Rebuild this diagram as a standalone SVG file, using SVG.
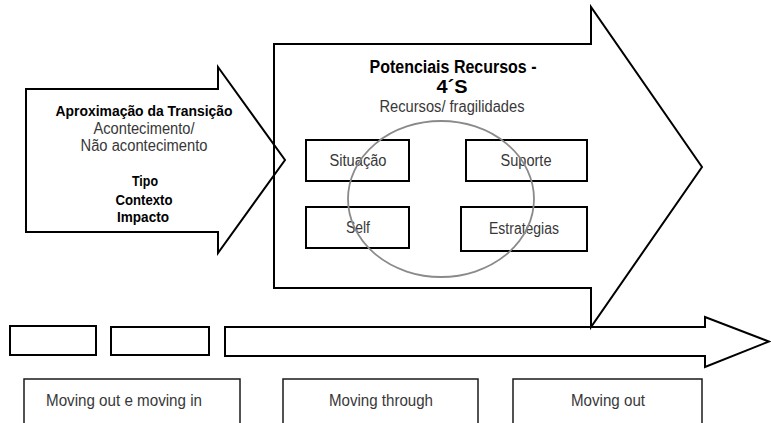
<svg xmlns="http://www.w3.org/2000/svg" width="771" height="423" viewBox="0 0 771 423">
<style>
.shape{fill:none;stroke:#000;stroke-width:2;stroke-linejoin:miter}
.box{fill:#fff;stroke:#000;stroke-width:2}
.lbox{fill:#fff;stroke:#1a1a1a;stroke-width:1.5}
.b{font-family:"Liberation Sans",Arial,sans-serif;font-weight:bold;fill:#000;text-anchor:middle}
.r{font-family:"Liberation Sans",Arial,sans-serif;fill:#383838;text-anchor:middle;font-size:16px}
</style>
<rect width="771" height="423" fill="#fff"/>
<g id="connectors">
  <g id="left-arrow">
    <polygon class="shape" points="26,89 218,89 218,67 285,160 218,253 218,232 26,232"/>
  </g>
  <g id="big-arrow">
    <polygon class="shape" points="274,44 591,44 591,7 702,167 591,327 591,288 274,288"/>
  </g>
  <g id="timeline-arrow">
    <polygon class="shape" points="225,327 705,327 705,317 769,341.5 705,367 705,356 225,356"/>
  </g>
</g>
<g id="transition-approach">
  <text class="b" x="144" y="116" font-size="15.5" textLength="177" lengthAdjust="spacingAndGlyphs">Aproximação da Transição</text>
  <text class="r" x="144" y="134" textLength="101" lengthAdjust="spacingAndGlyphs">Acontecimento/</text>
  <text class="r" x="144" y="151" textLength="127" lengthAdjust="spacingAndGlyphs">Não acontecimento</text>
  <text class="b" x="145" y="186" font-size="15.5" textLength="26" lengthAdjust="spacingAndGlyphs">Tipo</text>
  <text class="b" x="144" y="205" font-size="15.5" textLength="57" lengthAdjust="spacingAndGlyphs">Contexto</text>
  <text class="b" x="143" y="222" font-size="15.5" textLength="52" lengthAdjust="spacingAndGlyphs">Impacto</text>
</g>
<g id="resources">
  <text class="b" x="453" y="73" font-size="17.5" textLength="167" lengthAdjust="spacingAndGlyphs">Potenciais Recursos -</text>
  <text class="b" x="452" y="93" font-size="17.5" textLength="31" lengthAdjust="spacingAndGlyphs">4´S</text>
  <text class="r" x="452" y="112" textLength="145" lengthAdjust="spacingAndGlyphs">Recursos/ fragilidades</text>
</g>
<g id="situacao">
  <rect class="box" x="306" y="140" width="103" height="41"/>
  <text class="r" x="358" y="166" textLength="57" lengthAdjust="spacingAndGlyphs">Situação</text>
</g>
<g id="suporte">
  <rect class="box" x="466" y="140" width="121" height="41"/>
  <text class="r" x="526" y="166" textLength="51" lengthAdjust="spacingAndGlyphs">Suporte</text>
</g>
<g id="self">
  <rect class="box" x="306" y="207" width="103" height="41"/>
  <text class="r" x="358" y="233" textLength="24" lengthAdjust="spacingAndGlyphs">Self</text>
</g>
<g id="estrategias">
  <rect class="box" x="461" y="207" width="126" height="44"/>
  <text class="r" x="524" y="234" textLength="70" lengthAdjust="spacingAndGlyphs">Estrategias</text>
</g>
<g id="circle">
  <ellipse cx="441" cy="199" rx="93" ry="78" fill="none" stroke="#8a8a8a" stroke-width="1.8"/>
</g>
<g id="small-box-1">
  <rect class="box" x="10" y="326" width="86" height="29"/>
</g>
<g id="small-box-2">
  <rect class="box" x="111" y="327" width="98" height="28"/>
</g>
<g id="moving-in">
  <rect class="lbox" x="24" y="379" width="216" height="60"/>
  <text class="r" x="124" y="406" font-size="17.5" textLength="156" lengthAdjust="spacingAndGlyphs">Moving out e moving in</text>
</g>
<g id="moving-through">
  <rect class="lbox" x="283" y="379" width="195" height="60"/>
  <text class="r" x="381" y="406" font-size="17.5" textLength="104" lengthAdjust="spacingAndGlyphs">Moving through</text>
</g>
<g id="moving-out">
  <rect class="lbox" x="513" y="379" width="189" height="60"/>
  <text class="r" x="608" y="406" font-size="17.5" textLength="74" lengthAdjust="spacingAndGlyphs">Moving out</text>
</g>
</svg>
